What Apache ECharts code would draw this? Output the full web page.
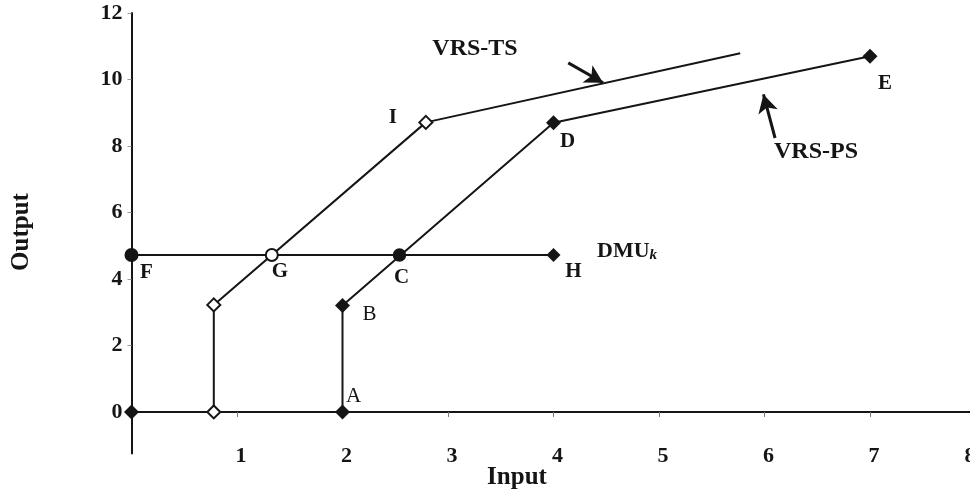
<!DOCTYPE html>
<html style="height: 100%;width:100%">
<head>
<meta charset="utf-8">
</head>
<body style="height: 100%; width:100%; margin:0">
<div id="chart-panel" style="height: 501px;width: 970px"></div>
<script type="text/javascript" src="https://cdn.jsdelivr.net/npm/echarts@6.0.0/dist/echarts.min.js"></script>
<script type="text/javascript">
// data
var tsX = [0.78, 0.78, 2.79, 5.77];
var tsY = [0, 3.22, 8.71, 10.79];
var tsLabels = ['', '', 'I', ''];
var psX = [2, 2, 4, 7];
var psY = [0, 3.2, 8.7, 10.7];
var psLabels = ['A', 'B', 'D', 'E'];
var dmuX = [0, 4];
var dmuY = [4.72, 4.72];
var dmuLabels = ['F', 'H'];
var crossX = [1.33, 2.54];
var crossY = [4.72, 4.72];
var crossLabels = ['G', 'C'];
var originPt = [0, 0];
var yTicks = [0, 2, 4, 6, 8, 10, 12];

var font = 'Liberation Serif';
var ink = '#151515';

// label offsets (px) from each point
var labelOffsets = {
	A: [11, -15], B: [27, 9], C: [2, 23], D: [14, 19], E: [15, 27],
	F: [15, 18], G: [8, 17], H: [20, 17], I: [-33, -5]
};
var normalWeight = { A: true, B: true };

function pts(xs, ys, names, symbols) {
	return xs.map(function (x, i) {
		var item = { value: [x, ys[i]] };
		if (symbols) item.symbol = symbols[i];
		var n = names ? names[i] : '';
		if (n) {
			item.label = {
				show: true,
				formatter: n,
				position: 'inside',
				align: 'center',
				verticalAlign: 'middle',
				offset: labelOffsets[n],
				fontFamily: font,
				fontSize: 21,
				fontWeight: normalWeight[n] ? 'normal' : 'bold',
				color: ink
			};
		}
		return item;
	});
}

var dom = document.getElementById('chart-panel');
var myChart = echarts.init(dom);

var option = {
	backgroundColor: '#ffffff',
	animation: false,
	grid: {
		left: 131.5,
		right: -5.5,
		top: 13,
		bottom: 47.5,
		outerBoundsMode: 'none'
	},
	xAxis: {
		type: 'value',
		min: 0,
		max: 8,
		interval: 1,
		axisLine: { onZero: true, lineStyle: { color: ink, width: 2 } },
		axisTick: { show: true, length: 5, lineStyle: { color: '#777' } },
		axisLabel: {
			margin: -8,
			showMaxLabel: true,
			alignMaxLabel: 'right',
			hideOverlap: false,
			fontFamily: font,
			fontSize: 22,
			fontWeight: 'bold',
			color: ink,
			padding: [0, 0, 0, 8],
			formatter: function (v) { return v === 0 ? '' : v; }
		},
		splitLine: { show: false }
	},
	yAxis: {
		type: 'value',
		min: -1.25,
		max: 12,
		axisLine: { show: true, onZero: false, lineStyle: { color: ink, width: 2 } },
		axisTick: { show: true, length: 4, customValues: yTicks, lineStyle: { color: '#999' } },
		axisLabel: {
			margin: 9,
			customValues: yTicks,
			fontFamily: font,
			fontSize: 22,
			fontWeight: 'bold',
			color: ink
		},
		splitLine: { show: false }
	},
	graphic: [
		{ type: 'text', x: 475, y: 49, style: { text: 'VRS-TS', font: 'bold 24px "Liberation Serif"', fill: ink, align: 'center', verticalAlign: 'middle' } },
		{ type: 'text', x: 816, y: 152, style: { text: 'VRS-PS', font: 'bold 24px "Liberation Serif"', fill: ink, align: 'center', verticalAlign: 'middle' } },
		{
			type: 'text', x: 597, y: 251,
			style: {
				text: '{a|DMU}{k|k}',
				align: 'left',
				verticalAlign: 'middle',
				rich: {
					a: { fontFamily: font, fontSize: 22, fontWeight: 'bold', fill: ink },
					k: { fontFamily: font, fontSize: 15, fontWeight: 'bold', fontStyle: 'italic', fill: ink, padding: [8, 0, 0, 0] }
				}
			}
		},
		{ type: 'text', x: 517, y: 478, style: { text: 'Input', font: 'bold 25px "Liberation Serif"', fill: ink, align: 'center', verticalAlign: 'middle' } },
		{ type: 'text', x: 22, y: 232, rotation: Math.PI / 2, style: { text: 'Output', font: 'bold 25px "Liberation Serif"', fill: ink, align: 'center', verticalAlign: 'middle' } }
	],
	series: [
		{
			name: 'VRS-TS',
			type: 'line',
			data: pts(tsX, tsY, tsLabels, ['emptyDiamond', 'emptyDiamond', 'emptyDiamond', 'none']),
			symbolSize: 13,
			lineStyle: { color: ink, width: 2 },
			itemStyle: { color: ink, borderColor: ink, borderWidth: 1.5 },
			z: 3,
			markLine: {
				silent: true,
				symbol: ['none', 'arrow'],
				symbolSize: [15, 18],
				label: { show: false },
				lineStyle: { color: ink, width: 3, type: 'solid' },
				data: [
					[{ coord: [4.14, 10.5] }, { coord: [4.47, 9.9] }],
					[{ coord: [6.1, 8.24] }, { coord: [5.99, 9.55] }]
				]
			}
		},
		{
			name: 'VRS-PS',
			type: 'line',
			data: pts(psX, psY, psLabels),
			symbol: 'diamond',
			symbolSize: 15,
			lineStyle: { color: ink, width: 2 },
			itemStyle: { color: ink },
			z: 3
		},
		{
			name: 'DMUk',
			type: 'line',
			data: pts(dmuX, dmuY, dmuLabels, ['circle', 'diamond']),
			symbolSize: 14,
			lineStyle: { color: ink, width: 2 },
			itemStyle: { color: ink },
			z: 2
		},
		{
			name: 'cross',
			type: 'scatter',
			data: pts(crossX, crossY, crossLabels, ['emptyCircle', 'circle']),
			symbolSize: 12,
			itemStyle: { color: ink, borderColor: ink, borderWidth: 1.5, opacity: 1 },
			z: 4
		},
		{
			name: 'origin',
			type: 'scatter',
			data: [originPt],
			symbol: 'diamond',
			symbolSize: 15,
			itemStyle: { color: ink, opacity: 1 },
			z: 4
		}
	]
};

myChart.setOption(option);
</script>
</body>
</html>
